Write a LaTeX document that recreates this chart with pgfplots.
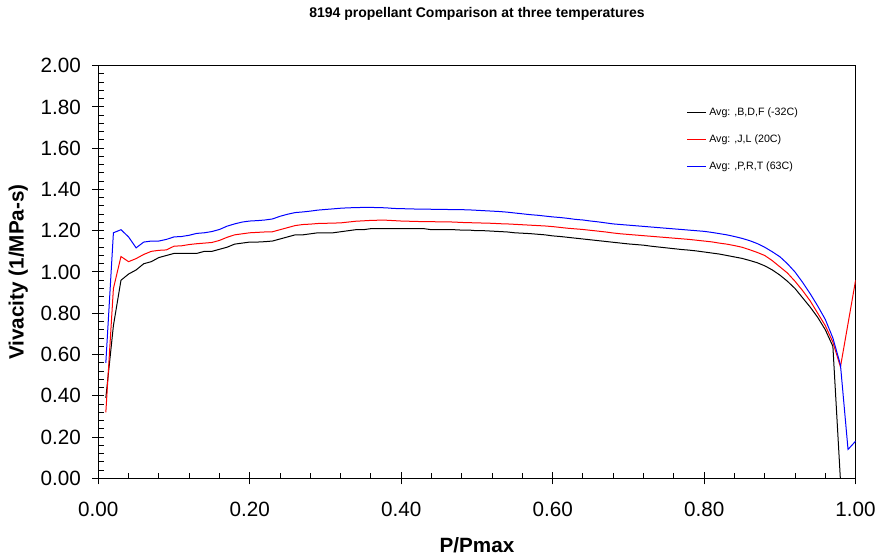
\documentclass[border=0pt]{standalone}
\usepackage{fontspec}
\setmainfont{Liberation Sans}
\usepackage{pgfplots}
\usepackage{pgfplotstable}
\pgfplotsset{compat=1.18}

\pgfplotstableread{
x y
0.01 0.39
0.02 0.74
0.03 0.96
0.04 0.99
0.05 1.01
0.06 1.04
0.07 1.05
0.08 1.07
0.09 1.08
0.10 1.09
0.11 1.09
0.12 1.09
0.13 1.09
0.14 1.10
0.15 1.10
0.16 1.11
0.17 1.12
0.18 1.135
0.19 1.14
0.20 1.145
0.21 1.145
0.22 1.147
0.23 1.15
0.24 1.16
0.25 1.17
0.26 1.18
0.27 1.18
0.28 1.185
0.29 1.19
0.30 1.19
0.31 1.19
0.32 1.195
0.33 1.20
0.34 1.205
0.35 1.205
0.36 1.21
0.37 1.21
0.38 1.21
0.39 1.21
0.40 1.21
0.41 1.21
0.42 1.21
0.43 1.21
0.44 1.205
0.45 1.205
0.46 1.205
0.47 1.205
0.48 1.203
0.49 1.203
0.50 1.20
0.51 1.20
0.52 1.198
0.53 1.196
0.54 1.194
0.55 1.19
0.56 1.188
0.57 1.186
0.58 1.183
0.59 1.18
0.60 1.175
0.61 1.172
0.62 1.168
0.63 1.164
0.64 1.16
0.65 1.156
0.66 1.152
0.67 1.148
0.68 1.144
0.69 1.14
0.70 1.136
0.71 1.133
0.72 1.13
0.73 1.125
0.74 1.121
0.75 1.117
0.76 1.113
0.77 1.109
0.78 1.106
0.79 1.102
0.80 1.097
0.81 1.092
0.82 1.087
0.83 1.08
0.84 1.073
0.85 1.066
0.86 1.056
0.87 1.045
0.88 1.03
0.89 1.01
0.90 0.985
0.91 0.955
0.92 0.92
0.93 0.875
0.94 0.83
0.95 0.78
0.96 0.72
0.97 0.64
0.98 -0.01
}\tblack

\pgfplotstableread{
x y
0.01 0.32
0.02 0.92
0.03 1.075
0.04 1.05
0.05 1.065
0.06 1.085
0.07 1.10
0.08 1.105
0.09 1.107
0.10 1.125
0.11 1.127
0.12 1.133
0.13 1.137
0.14 1.14
0.15 1.143
0.16 1.153
0.17 1.168
0.18 1.18
0.19 1.185
0.20 1.19
0.21 1.192
0.22 1.194
0.23 1.195
0.24 1.205
0.25 1.215
0.26 1.225
0.27 1.23
0.28 1.232
0.29 1.235
0.30 1.236
0.31 1.237
0.32 1.238
0.33 1.242
0.34 1.246
0.35 1.248
0.36 1.25
0.37 1.251
0.38 1.251
0.39 1.249
0.40 1.247
0.41 1.246
0.42 1.245
0.43 1.244
0.44 1.244
0.45 1.243
0.46 1.243
0.47 1.242
0.48 1.24
0.49 1.239
0.50 1.238
0.51 1.237
0.52 1.236
0.53 1.234
0.54 1.233
0.55 1.231
0.56 1.229
0.57 1.227
0.58 1.225
0.59 1.223
0.60 1.22
0.61 1.216
0.62 1.212
0.63 1.209
0.64 1.206
0.65 1.202
0.66 1.198
0.67 1.194
0.68 1.189
0.69 1.185
0.70 1.182
0.71 1.179
0.72 1.176
0.73 1.173
0.74 1.17
0.75 1.167
0.76 1.164
0.77 1.161
0.78 1.158
0.79 1.154
0.80 1.15
0.81 1.146
0.82 1.14
0.83 1.135
0.84 1.128
0.85 1.12
0.86 1.108
0.87 1.095
0.88 1.08
0.89 1.055
0.90 1.025
0.91 0.995
0.92 0.955
0.93 0.91
0.94 0.86
0.95 0.80
0.96 0.74
0.97 0.66
0.98 0.54
0.99 0.75
1.00 0.96
}\tred

\pgfplotstableread{
x y
0.01 0.56
0.02 1.19
0.03 1.205
0.04 1.17
0.05 1.117
0.06 1.145
0.07 1.15
0.08 1.15
0.09 1.158
0.10 1.17
0.11 1.172
0.12 1.178
0.13 1.187
0.14 1.19
0.15 1.196
0.16 1.206
0.17 1.222
0.18 1.233
0.19 1.242
0.20 1.247
0.21 1.249
0.22 1.252
0.23 1.257
0.24 1.27
0.25 1.28
0.26 1.288
0.27 1.291
0.28 1.295
0.29 1.30
0.30 1.303
0.31 1.306
0.32 1.309
0.33 1.311
0.34 1.312
0.35 1.313
0.36 1.313
0.37 1.312
0.38 1.311
0.39 1.308
0.40 1.307
0.41 1.306
0.42 1.305
0.43 1.305
0.44 1.304
0.45 1.303
0.46 1.303
0.47 1.302
0.48 1.302
0.49 1.301
0.50 1.299
0.51 1.297
0.52 1.295
0.53 1.293
0.54 1.29
0.55 1.286
0.56 1.282
0.57 1.278
0.58 1.275
0.59 1.271
0.60 1.267
0.61 1.264
0.62 1.26
0.63 1.255
0.64 1.252
0.65 1.247
0.66 1.243
0.67 1.238
0.68 1.233
0.69 1.23
0.70 1.227
0.71 1.224
0.72 1.221
0.73 1.218
0.74 1.215
0.75 1.212
0.76 1.209
0.77 1.206
0.78 1.203
0.79 1.20
0.80 1.197
0.81 1.192
0.82 1.186
0.83 1.18
0.84 1.172
0.85 1.163
0.86 1.152
0.87 1.138
0.88 1.12
0.89 1.098
0.90 1.074
0.91 1.04
0.92 1.00
0.93 0.95
0.94 0.895
0.95 0.835
0.96 0.77
0.97 0.68
0.98 0.55
0.99 0.14
1.00 0.18
}\tblue

\begin{document}
\begin{tikzpicture}
\begin{axis}[
  name=ax,
  scale only axis,
  width=568pt, height=309.5pt,
  xmin=0, xmax=1, ymin=0, ymax=2,
  xtick={0,0.2,0.4,0.6,0.8,1},
  ytick={0,0.2,0.4,0.6,0.8,1,1.2,1.4,1.6,1.8,2},
  minor tick num=4,
  xtick pos=bottom, ytick pos=left,
  tick align=inside,
  major tick length=9pt,
  minor tick length=4pt,
  major x tick style={yshift=-4.5pt},
  major y tick style={xshift=-4.5pt},
  tick style={black, line width=0.75pt},
  axis line style={line width=0.75pt},
  /pgf/number format/assume math mode=true,
  xticklabel={\pgfmathprintnumber[fixed,fixed zerofill,precision=2]{\tick}},
  yticklabel={\pgfmathprintnumber[fixed,fixed zerofill,precision=2]{\tick}},
  tick label style={font=\fontsize{15.5}{18}\selectfont},
  xticklabel style={yshift=-14pt},
  yticklabel style={xshift=-9.5pt},
  title={8194 propellant Comparison at three temperatures},
  title style={font=\bfseries\fontsize{10.5}{12}\selectfont, at={(0.5,1)}, anchor=center, yshift=33pt},
  xlabel={P/Pmax},
  xlabel style={font=\bfseries\fontsize{15.5}{18}\selectfont, at={(0.5,0)}, anchor=center, yshift=-50pt},
  ylabel={Vivacity (1/MPa-s)},
  ylabel style={font=\bfseries\fontsize{15.5}{18}\selectfont, at={(-0.1056,0.5)}, anchor=center},
  legend style={at={(0.777,0.905)}, anchor=north west, draw=none, fill=none,
    font=\fontsize{8}{9.6}\selectfont, row sep=9pt, inner sep=0pt,
    legend cell align=left},
  legend image code/.code={\draw[#1] (0pt,0pt) -- (14pt,0pt);},
]
\addplot[color=black, line width=0.75pt] table[x=x,y=y] {\tblack};
\addlegendentry{Avg: ,B,D,F (-32C)}
\addplot[color=red, line width=0.75pt] table[x=x,y=y] {\tred};
\addlegendentry{Avg: ,J,L (20C)}
\addplot[color=blue, line width=0.75pt] table[x=x,y=y] {\tblue};
\addlegendentry{Avg: ,P,R,T (63C)}
\end{axis}
\pgfresetboundingbox
\path[use as bounding box] (ax.south west) ++(-73.7pt,-60.5pt) rectangle ++(659.25pt,419.25pt);
\end{tikzpicture}
\end{document}
